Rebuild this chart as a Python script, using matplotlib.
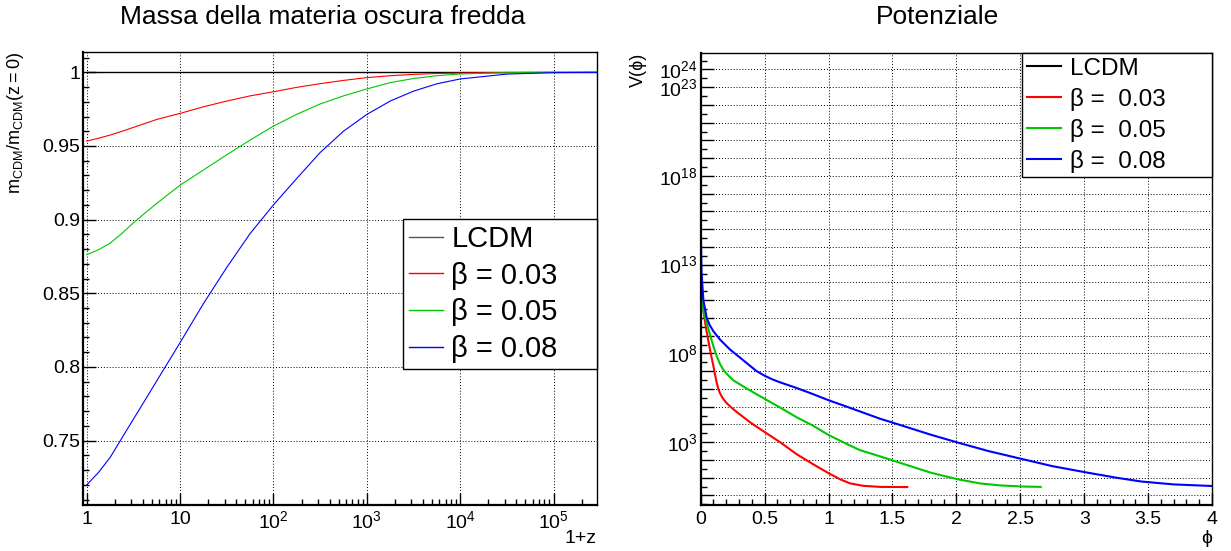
import matplotlib
matplotlib.use("Agg")
import matplotlib.pyplot as plt
import numpy as np
from matplotlib.lines import Line2D
from matplotlib.ticker import FixedLocator, FuncFormatter, NullFormatter, LogLocator, MultipleLocator

plt.rcParams['font.family'] = ['Liberation Sans', 'DejaVu Sans']
plt.rcParams['mathtext.fontset'] = 'custom'
plt.rcParams['mathtext.rm'] = 'Liberation Sans'
plt.rcParams['mathtext.it'] = 'Liberation Sans:italic'

RED, GREEN, BLUE = "#ff0000", "#00c800", "#0000ff"

# --- pannello sinistro: m_CDM/m_CDM(z=0) in funzione di 1+z
opz = [1, 1.33, 1.78, 2.37, 3.16, 4.22, 5.62, 7.5, 10, 17.8, 31.6, 56.2, 100, 178, 316, 562,
       1e3, 1.78e3, 3.16e3, 5.62e3, 1e4, 3.16e4, 1e5, 2.9e5]
m_lcdm = [1.0] * len(opz)
m_b003 = [0.9533, 0.9552, 0.9574, 0.9599, 0.9626, 0.9653, 0.9680, 0.9701, 0.9721, 0.9766,
          0.9805, 0.9840, 0.9868, 0.9898, 0.9923, 0.9945, 0.9964, 0.9977, 0.9986, 0.9992,
          0.9995, 0.9999, 1.0, 1.0]
m_b005 = [0.8762, 0.8795, 0.8840, 0.8905, 0.8978, 0.9045, 0.9110, 0.9172, 0.9234, 0.9337,
          0.9440, 0.9540, 0.9635, 0.9715, 0.9785, 0.9840, 0.9887, 0.9930, 0.9958, 0.9977,
          0.9989, 0.9997, 1.0, 1.0]
m_b008 = [0.7199, 0.7282, 0.7385, 0.7515, 0.7645, 0.7775, 0.7905, 0.8035, 0.8165, 0.8430,
          0.8675, 0.8905, 0.9100, 0.9280, 0.9455, 0.9600, 0.9714, 0.9805, 0.9872, 0.9922,
          0.9955, 0.9988, 0.9998, 1.0]

# --- pannello destro: potenziale V(phi), esponenti log10
phi_r = [0.0, 0.005, 0.021, 0.040, 0.060, 0.080, 0.099, 0.112, 0.125, 0.138, 0.151, 0.175,
         0.203, 0.240, 0.282, 0.386, 0.498, 0.621, 0.751, 0.881, 1.001, 1.09, 1.168, 1.272,
         1.403, 1.616]
logV_r = [13.0, 11.7, 10.4, 9.5, 8.7, 7.95, 7.3, 6.8, 6.35, 6.0, 5.75, 5.45,
          5.2, 4.95, 4.7, 4.12, 3.58, 3.0, 2.32, 1.75, 1.25, 0.91, 0.68, 0.54,
          0.48, 0.47]
phi_g = [0.0, 0.005, 0.016, 0.047, 0.075, 0.099, 0.125, 0.151, 0.177, 0.203, 0.256, 0.36,
         0.498, 0.621, 0.751, 0.881, 1.001, 1.142, 1.246, 1.403, 1.502, 1.64, 1.80, 2.01,
         2.19, 2.35, 2.52, 2.66]
logV_g = [13.5, 12.2, 10.5, 9.7, 9.0, 8.4, 7.85, 7.4, 7.08, 6.85, 6.48, 6.02,
          5.45, 4.95, 4.4, 3.92, 3.4, 2.9, 2.55, 2.2, 1.97, 1.65, 1.28, 0.91,
          0.67, 0.56, 0.50, 0.48]
phi_b = [0.0, 0.002, 0.006, 0.021, 0.047, 0.070, 0.099, 0.151, 0.229, 0.308, 0.386, 0.438,
         0.498, 0.560, 0.621, 0.751, 0.881, 1.001, 1.142, 1.246, 1.403, 1.502, 1.638, 1.80,
         2.01, 2.25, 2.52, 2.75, 3.02, 3.25, 3.45, 3.7, 4.0]
logV_b = [24.25, 14.5, 12.6, 11.0, 10.0, 9.6, 9.25, 8.78, 8.22, 7.76, 7.3, 7.0,
          6.75, 6.54, 6.37, 6.05, 5.7, 5.36, 5.0, 4.73, 4.32, 4.1, 3.79, 3.42,
          2.98, 2.5, 2.04, 1.65, 1.29, 1.0, 0.78, 0.62, 0.53]

labels_left = ["LCDM", "β = 0.03", "β = 0.05", "β = 0.08"]
labels_right = ["LCDM", "β =  0.03", "β =  0.05", "β =  0.08"]
vlabel_dec = [3, 8, 13, 18, 23, 24]

W, H = 1231, 551
fig = plt.figure(figsize=(W / 100, H / 100), dpi=100)
axL = fig.add_axes([83.3 / W, 1 - 505 / H, (596.7 - 83.3) / W, (505 - 51.7) / H])
axR = fig.add_axes([700.7 / W, 1 - 505 / H, (1212 - 700.7) / W, (505 - 52.7) / H])


def root_style(ax):
    for s in ax.spines.values():
        s.set_linewidth(1.0)
    ax.spines["left"].set_linewidth(1.6)
    ax.spines["bottom"].set_linewidth(1.6)
    ax.tick_params(which="both", direction="in", top=False, right=False, labelsize=14, width=1.0)
    ax.tick_params(which="major", length=9)
    ax.tick_params(which="minor", length=4.5)
    ax.grid(True, which="major", ls=(0, (1, 2)), color="black", lw=0.7)


fmt_g = FuncFormatter(lambda v, p: f"{v:g}")

# ---------------- sinistra
ax = axL
ax.plot(opz, m_lcdm, color="black", lw=1.0)
ax.plot(opz, m_b003, color=RED, lw=0.8)
ax.plot(opz, m_b005, color=GREEN, lw=0.8)
ax.plot(opz, m_b008, color=BLUE, lw=0.8)
ax.set_xscale("log")
ax.set_xlim(0.92, 2.9e5)
ax.set_ylim(0.7063, 1.014)
root_style(ax)
ax.xaxis.set_major_locator(FixedLocator([1, 10, 100, 1e3, 1e4, 1e5]))
ax.xaxis.set_minor_locator(LogLocator(base=10, subs=np.arange(2, 10), numticks=20))
ax.xaxis.set_minor_formatter(NullFormatter())
ax.xaxis.set_major_formatter(FuncFormatter(
    lambda v, p: {1: "1", 10: "10"}.get(int(round(v)), r"$\mathregular{10^{%d}}$" % round(np.log10(v)))))
ax.yaxis.set_major_locator(MultipleLocator(0.05))
ax.yaxis.set_minor_locator(MultipleLocator(0.01))
ax.yaxis.set_major_formatter(fmt_g)
ax.tick_params(axis="x", pad=4)
ax.tick_params(axis="y", pad=2)
ax.set_ylabel(r"$\mathregular{m_{CDM}/m_{CDM}(z=0)}$", fontsize=13, loc="top")
ax.yaxis.set_label_coords(-0.112, 1.0)
ax.set_xlabel("1+z", fontsize=14, loc="right", va="center")
ax.xaxis.set_label_coords(1.0, -0.074)
hL = [Line2D([], [], color="#555555", lw=1.0), Line2D([], [], color=RED, lw=1.0),
      Line2D([], [], color=GREEN, lw=1.0), Line2D([], [], color=BLUE, lw=1.0)]
legL = ax.legend(hL, labels_left, loc="upper left", bbox_to_anchor=(0.623, 0.631, 0.377, 0.0),
                 mode="expand", borderaxespad=0, fontsize=21, frameon=True, fancybox=False,
                 edgecolor="black", framealpha=1, handlelength=1.15, handletextpad=0.3,
                 labelspacing=0.3, borderpad=0.2)
legL.get_frame().set_linewidth(1.0)
fig.text(323 / W, 1 - 17 / H, "Massa della materia oscura fredda", ha="center", va="center", fontsize=19)

# ---------------- destra
ax = axR
ax.plot(phi_r, np.power(10.0, logV_r), color=RED, lw=1.5)
ax.plot(phi_g, np.power(10.0, logV_g), color=GREEN, lw=1.5)
ax.plot(phi_b, np.power(10.0, logV_b), color=BLUE, lw=1.5)
ax.set_yscale("log")
ax.set_xlim(0, 4)
ax.set_ylim(10 ** -0.54, 10 ** 24.94)
root_style(ax)
ax.xaxis.set_major_locator(MultipleLocator(0.5))
ax.xaxis.set_minor_locator(MultipleLocator(0.1))
ax.xaxis.set_major_formatter(fmt_g)
ax.yaxis.set_major_locator(FixedLocator([10.0 ** k for k in range(0, 25)]))
ax.yaxis.set_minor_locator(FixedLocator([10.0 ** (k + 0.5) for k in range(-1, 25)]))
ax.yaxis.set_minor_formatter(NullFormatter())
ax.yaxis.set_major_formatter(FuncFormatter(
    lambda v, p: r"$\mathregular{10^{%d}}$" % round(np.log10(v)) if round(np.log10(v)) in vlabel_dec else ""))
ax.tick_params(axis="x", pad=4)
ax.tick_params(axis="y", pad=2)
ax.set_ylabel("V(ϕ)", fontsize=13, loc="top")
ax.yaxis.set_label_coords(-0.105, 1.0)
ax.set_xlabel("ϕ", fontsize=14, loc="right", va="center")
ax.xaxis.set_label_coords(1.0, -0.074)
hR = [Line2D([], [], color="black", lw=1.5), Line2D([], [], color=RED, lw=1.5),
      Line2D([], [], color=GREEN, lw=1.5), Line2D([], [], color=BLUE, lw=1.5)]
legR = ax.legend(hR, labels_right, loc="upper left", bbox_to_anchor=(0.628, 1.0, 0.372, 0.0),
                 mode="expand", borderaxespad=0, fontsize=17.5, frameon=True, fancybox=False,
                 edgecolor="black", framealpha=1, handlelength=1.43, handletextpad=0.34,
                 labelspacing=0.33, borderpad=0.2)
legR.get_frame().set_linewidth(1.0)
fig.text(938 / W, 1 - 17 / H, "Potenziale", ha="center", va="center", fontsize=19)

fig.savefig("out.png", dpi=100)
